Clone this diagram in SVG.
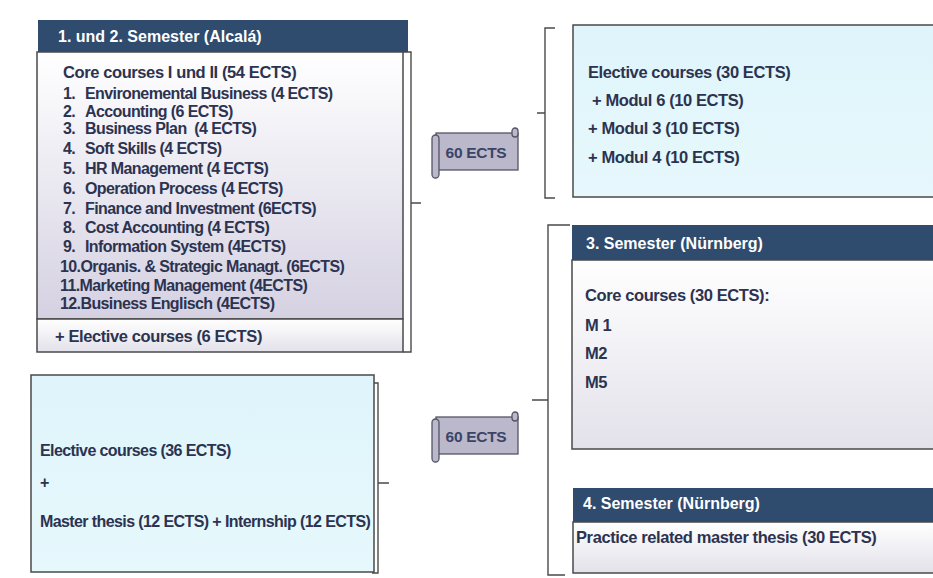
<svg xmlns="http://www.w3.org/2000/svg" width="933" height="578" viewBox="0 0 933 578">
  <style>
    .txt { font-family: "Liberation Sans", Arial, sans-serif; font-weight: bold; fill: #2c3350; }
    .hd { font-family: "Liberation Sans", Arial, sans-serif; font-weight: bold; fill: #ffffff; font-size: 16px; }
    .body { font-size: 16.5px; letter-spacing: -0.4px; }
    .item { font-size: 16px; letter-spacing: -0.6px; }
    .box { stroke: #4a4a4a; stroke-width: 1.5; }
    .head { fill: #2f4b6e; }
    .brk { fill: none; stroke: #4a4a4a; stroke-width: 1.4; }
    .scroll { fill: #bab8ca; stroke: #555566; stroke-width: 1.3; }
    .ects { font-family: "Liberation Sans", Arial, sans-serif; font-weight: bold; fill: #3b4466; font-size: 15.5px; letter-spacing: -0.3px; }
  </style>
  <defs>
    <linearGradient id="greyFade" x1="0" y1="0" x2="0" y2="1">
      <stop offset="0" stop-color="#ffffff"/>
      <stop offset="1" stop-color="#d5d1e2"/>
    </linearGradient>
    <linearGradient id="lightFade" x1="0" y1="0" x2="0" y2="1">
      <stop offset="0" stop-color="#ffffff"/>
      <stop offset="1" stop-color="#e3e1ea"/>
    </linearGradient>
    <linearGradient id="cyanFill" x1="0" y1="0" x2="0" y2="1">
      <stop offset="0" stop-color="#dff5fb"/>
      <stop offset="1" stop-color="#e6f8fc"/>
    </linearGradient>
    <!-- rolled banner holding the credit total -->
    <g id="scrollShape">
      <rect class="scroll" x="4" y="5" width="82" height="37"/>
      <rect class="scroll" x="80" y="0" width="6" height="9" rx="3"/>
      <rect class="scroll" x="0" y="7" width="7" height="43" rx="3.5"/>
    </g>
  </defs>

  <rect width="933" height="578" fill="#ffffff"/>

  <!-- brackets joining semesters to the credit banners -->
  <g id="connectors">
    <path class="brk" d="M403 52 H411 V352 H403 M411 203 H421"/>
    <path class="brk" d="M372 383 H378 V573 H372 M378 483 H389"/>
    <path class="brk" d="M555 28 H545 V198 H555 M545 113 H537"/>
    <path class="brk" d="M570 225 H548 V575 H565 M548 400 H532"/>
  </g>

  <!-- semesters 1 and 2 -->
  <g id="sem12">
    <rect class="box" x="37" y="52" width="366" height="267" fill="url(#greyFade)"/>
    <rect class="box" x="37" y="319" width="366" height="33" fill="url(#lightFade)"/>
    <rect class="head" x="38" y="20" width="370" height="32"/>
    <text class="hd" x="58" y="42">1. und 2. Semester (Alcalá)</text>
    <text class="txt body" x="63" y="78">Core courses I und II (54 ECTS)</text>
    <g class="txt item">
      <text x="63" y="99">1.</text><text x="85" y="99">Environemental Business (4 ECTS)</text>
      <text x="63" y="117">2.</text><text x="85" y="117">Accounting (6 ECTS)</text>
      <text x="63" y="134">3.</text><text x="85" y="134">Business Plan&#160; (4 ECTS)</text>
      <text x="63" y="154">4.</text><text x="85" y="154">Soft Skills (4 ECTS)</text>
      <text x="63" y="174">5.</text><text x="85" y="174">HR Management (4 ECTS)</text>
      <text x="63" y="194">6.</text><text x="85" y="194">Operation Process (4 ECTS)</text>
      <text x="63" y="214">7.</text><text x="85" y="214">Finance and Investment (6ECTS)</text>
      <text x="63" y="233">8.</text><text x="85" y="233">Cost Accounting (4 ECTS)</text>
      <text x="63" y="252">9.</text><text x="85" y="252">Information System (4ECTS)</text>
      <text x="60" y="272">10.Organis. &amp; Strategic Managt. (6ECTS)</text>
      <text x="60" y="291">11.Marketing Management (4ECTS)</text>
      <text x="60" y="309">12.Business Englisch (4ECTS)</text>
    </g>
    <text class="txt body" x="55" y="342">+ Elective courses (6 ECTS)</text>
  </g>

  <!-- elective alternative for semesters 1 and 2 -->
  <g id="electiveBlock">
    <rect class="box" x="31" y="375" width="343" height="197" fill="url(#cyanFill)"/>
    <text class="txt item" x="40" y="456">Elective courses (36 ECTS)</text>
    <text class="txt item" x="40" y="488">+</text>
    <text class="txt item" x="40" y="527">Master thesis (12 ECTS) + Internship (12 ECTS)</text>
  </g>

  <!-- credit banners -->
  <g id="ects1">
    <use href="#scrollShape" x="432" y="128"/>
    <text class="ects" x="476" y="158" text-anchor="middle">60 ECTS</text>
  </g>
  <g id="ects2">
    <use href="#scrollShape" x="432" y="412"/>
    <text class="ects" x="476" y="442" text-anchor="middle">60 ECTS</text>
  </g>

  <!-- elective modules -->
  <g id="electiveModules">
    <rect class="box" x="573" y="25" width="370" height="172" fill="url(#cyanFill)"/>
    <text class="txt body" x="588" y="78">Elective courses (30 ECTS)</text>
    <text class="txt body" x="592" y="106">+ Modul 6 (10 ECTS)</text>
    <text class="txt body" x="588" y="134">+ Modul 3 (10 ECTS)</text>
    <text class="txt body" x="588" y="163">+ Modul 4 (10 ECTS)</text>
  </g>

  <!-- semester 3 -->
  <g id="sem3">
    <rect class="box" x="572" y="260" width="370" height="189" fill="url(#lightFade)"/>
    <rect class="head" x="572" y="225" width="370" height="35"/>
    <text class="hd" x="586" y="249">3. Semester (Nürnberg)</text>
    <text class="txt body" x="585" y="301">Core courses (30 ECTS):</text>
    <text class="txt body" x="585" y="331">M 1</text>
    <text class="txt body" x="585" y="359">M2</text>
    <text class="txt body" x="585" y="388">M5</text>
  </g>

  <!-- semester 4 -->
  <g id="sem4">
    <rect class="box" x="573" y="522" width="370" height="51" fill="url(#lightFade)"/>
    <rect class="head" x="573" y="488" width="370" height="34"/>
    <text class="hd" x="583" y="509">4. Semester (Nürnberg)</text>
    <text class="txt body" x="576" y="543">Practice related master thesis (30 ECTS)</text>
  </g>
</svg>
